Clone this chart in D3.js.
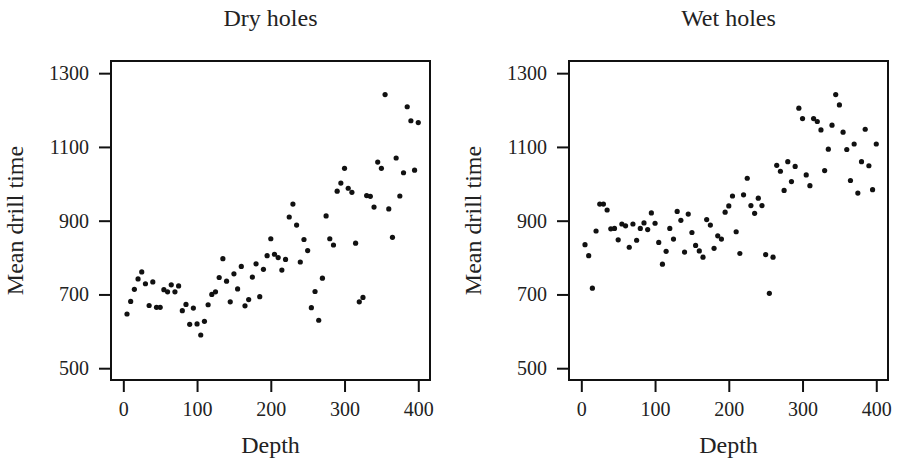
<!DOCTYPE html>
<html>
<head>
<meta charset="utf-8">
<script src="https://cdn.jsdelivr.net/npm/d3@7"></script>
<style>
  body { margin: 0; background: #fff; }
  svg text { font-family: "Liberation Serif", "Times New Roman", serif; fill: #222; }
</style>
</head>
<body>
<svg width="897" height="461"></svg>
<script>
let svg = d3.select("svg");

// depth of each hole group
const depth = [5, 10, 15, 20, 25, 30, 35, 40, 45, 50, 55, 60, 65, 70, 75, 80, 85, 90, 95, 100,
    105, 110, 115, 120, 125, 130, 135, 140, 145, 150, 155, 160, 165, 170, 175, 180, 185, 190, 195, 200,
    205, 210, 215, 220, 225, 230, 235, 240, 245, 250, 255, 260, 265, 270, 275, 280, 285, 290, 295, 300,
    305, 310, 315, 320, 325, 330, 335, 340, 345, 350, 355, 360, 365, 370, 375, 380, 385, 390, 395, 400];

const dryTime = [647, 681, 714, 742, 761, 729, 670, 734, 665, 665, 713, 707, 726, 707, 723, 656, 673, 619, 663, 620,
    590, 627, 672, 700, 707, 746, 797, 736, 680, 756, 715, 776, 669, 686, 747, 783, 694, 768, 805, 851,
    809, 800, 766, 795, 910, 945, 888, 788, 849, 819, 664, 708, 630, 744, 913, 851, 834, 980, 1002, 1042,
    988, 977, 839, 680, 692, 968, 966, 937, 1059, 1042, 1242, 932, 855, 1070, 967, 1030, 1209, 1171, 1037, 1166];

const wetTime = [835, 805, 717, 872, 945, 945, 929, 878, 879, 848, 891, 886, 828, 891, 847, 879, 894, 876, 921, 893,
    841, 782, 817, 879, 850, 925, 901, 815, 918, 868, 833, 818, 801, 903, 888, 825, 859, 850, 923, 940,
    967, 870, 811, 970, 1015, 941, 920, 961, 941, 808, 703, 801, 1050, 1034, 982, 1060, 1006, 1047, 1205, 1177,
    1024, 995, 1177, 1169, 1146, 1036, 1094, 1159, 1242, 1214, 1140, 1093, 1009, 1108, 975, 1060, 1148, 1049, 984, 1108];

const xTicks = [0, 100, 200, 300, 400];
const yTicks = [500, 700, 900, 1100, 1300];
const panelTitles = ["Dry holes", "Wet holes"];

const panelW = 319, panelH = 319;
const panelTop = 61;
const panelLefts = [111, 569];

let x = d3.scaleLinear().domain([-16.7, 415.9]).range([0, panelW]);
let y = d3.scaleLinear().domain([468, 1333]).range([panelH, 0]);

function drawPanel(i, times) {
    let g = svg.append("g")
        .attr("transform", "translate(" + panelLefts[i] + "," + panelTop + ")");

    // axes with outward ticks, domain path hidden (frame drawn separately)
    let xAxis = g.append("g")
        .attr("transform", "translate(0," + (panelH + 1) + ")")
        .call(d3.axisBottom(x).tickValues(xTicks).tickFormat(d3.format("d"))
            .tickSize(11).tickPadding(10));
    let yAxis = g.append("g")
        .attr("transform", "translate(-1,0)")
        .call(d3.axisLeft(y).tickValues(yTicks).tickFormat(d3.format("d"))
            .tickSize(11).tickPadding(10));

    [xAxis, yAxis].forEach(function (a) {
        a.select(".domain").remove();
        a.selectAll(".tick line").attr("stroke", "#111").attr("stroke-width", 2);
        a.selectAll(".tick text")
            .style("font-size", "20px")
            .attr("fill", "#222");
    });

    g.append("rect")
        .attr("width", panelW)
        .attr("height", panelH)
        .attr("fill", "none")
        .attr("stroke", "#111")
        .attr("stroke-width", 2);

    g.append("g")
        .selectAll("circle")
        .data(depth)
        .enter().append("circle")
        .attr("cx", function (d) { return x(d); })
        .attr("cy", function (d, j) { return y(times[j]); })
        .attr("r", 2.6)
        .attr("fill", "#111");

    g.append("text")
        .attr("x", panelW / 2)
        .attr("y", -35.5)
        .attr("text-anchor", "middle")
        .style("font-size", "24px")
        .text(panelTitles[i]);

    g.append("text")
        .attr("x", panelW / 2)
        .attr("y", 392)
        .attr("text-anchor", "middle")
        .style("font-size", "24px")
        .text("Depth");

    g.append("text")
        .attr("transform", "translate(-88," + (panelH / 2) + ") rotate(-90)")
        .attr("text-anchor", "middle")
        .style("font-size", "24px")
        .text("Mean drill time");
}

drawPanel(0, dryTime);
drawPanel(1, wetTime);
</script>
</body>
</html>
